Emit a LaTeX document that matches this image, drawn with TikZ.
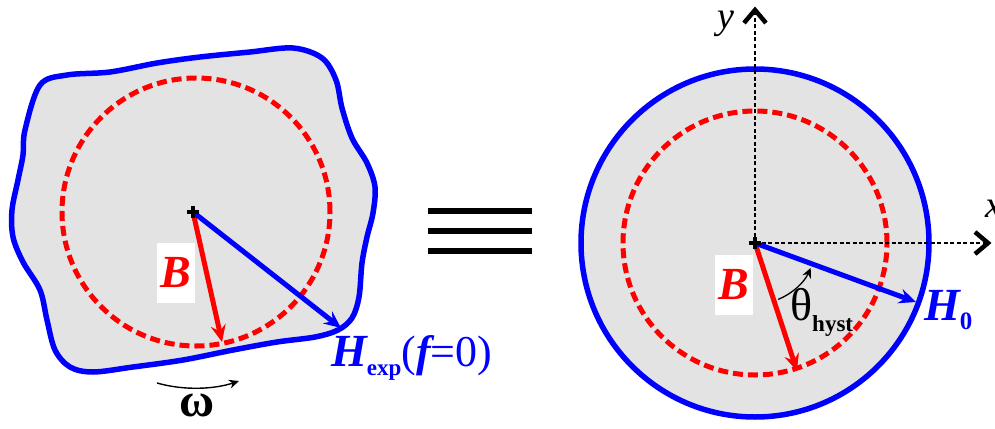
\documentclass[tikz,border=0pt]{standalone}
\usepackage{fontspec}
\setmainfont{Liberation Serif}
\usetikzlibrary{arrows.meta,calc}
\definecolor{blobgray}{HTML}{E3E3E3}
\definecolor{hblue}{HTML}{0000FF}
\definecolor{bred}{HTML}{FF0000}
\tikzset{
  outline/.style={draw=hblue, line width=5.5pt, fill=blobgray},
  redcirc/.style={draw=bred, line width=5pt, dash pattern=on 10pt off 5pt},
  vecB/.style={draw=bred, line width=5pt, -{Stealth[length=17pt,width=15pt,inset=6pt]}},
  vecH/.style={draw=hblue, line width=5pt, -{Stealth[length=17pt,width=15pt,inset=6pt]}},
  axis/.style={draw=black, line width=1.6pt, dash pattern=on 4pt off 2.5pt},
  chev/.style={draw=black, line width=4.5pt},
  marker/.style={draw=black, line width=3.5pt},
  blabel/.style={fill=white, text=bred, inner sep=0pt, minimum width=38pt, minimum height=60pt, font=\fontsize{46}{46}\selectfont\bfseries\itshape},
}
\begin{document}
\begin{tikzpicture}[x=1pt,y=-1pt]
\useasboundingbox (0,0) rectangle (995,428);
% ---------- left blob ----------
\draw[outline] plot[smooth cycle, tension=0.55] coordinates {
 (25,130) (40,85) (67,75) (110,72) (157,63) (200,57) (250,52) (293,48)
 (322,58) (336,80) (342,108) (352,138) (367,163) (375,187) (373,213)
 (367,237) (362,263) (359,297) (352,318) (338,330) (315,337) (277,342)
 (233,350) (183,360) (133,367) (93,372) (70,367) (55,350) (47,320)
 (40,290) (23,262) (13,237) (12,210) (18,180) (23,155)};
\coordinate (cL) at (193,212);
\draw[redcirc] (196,212) circle[radius=134pt];
\coordinate (bL) at (222,342);
\coordinate (hL) at (341,328);
\draw[vecB] (cL) -- (bL);
\draw[vecH] (cL) -- (hL);
\draw[marker] ($(cL)+(-6,0)$) -- ($(cL)+(6,0)$) ($(cL)+(0,-6)$) -- ($(cL)+(0,6)$);
\node[blabel] (BL) at (176,273) {B};
\node[anchor=west, text=hblue, inner sep=0pt] (HL) at (331,358)
 {\fontsize{46}{46}\selectfont\bfseries\itshape H\fontsize{23}{23}\selectfont\upshape\raisebox{-9pt}{exp}\fontsize{44}{44}\selectfont\mdseries(\bfseries\itshape f\mdseries\upshape=0)};
% omega
\coordinate (w1) at (157,383);
\coordinate (w2) at (239,381);
\draw[line width=1.4pt, -{Stealth[length=10pt,width=9pt]}] (w1) .. controls (185,391) and (215,389) .. (w2);
\node[font=\fontsize{48}{48}\selectfont\bfseries] (om) at (197,405) {ω};
% ---------- equivalence sign ----------
\coordinate (e1) at (428,211); \coordinate (e2) at (532,211);
\coordinate (e3) at (428,231); \coordinate (e4) at (532,231);
\coordinate (e5) at (428,251); \coordinate (e6) at (532,251);
\draw[line width=5.5pt] (e1) -- (e2) (e3) -- (e4) (e5) -- (e6);
% ---------- right circle ----------
\coordinate (cR) at (755,243);
\draw[outline] (cR) circle[radius=174pt];
\draw[redcirc] (cR) circle[radius=132pt];
\coordinate (xe) at (988,243);
\coordinate (ye) at (755,10);
\draw[axis] (cR) -- (xe);
\draw[axis] (cR) -- (ye);
\draw[chev] ($(xe)+(-13,-11)$) -- (xe) -- ($(xe)+(-13,11)$);
\draw[chev] ($(ye)+(-11,13)$) -- (ye) -- ($(ye)+(11,13)$);
\node[inner sep=0pt, font=\fontsize{38}{38}\selectfont\itshape] (xl) at (994,209) {x};
\node[inner sep=0pt, font=\fontsize{38}{38}\selectfont\itshape] (yl) at (726,24) {y};
\coordinate (bR) at (797,371);
\coordinate (hR) at (916,302);
\draw[vecB] (cR) -- (bR);
\draw[vecH] (cR) -- (hR);
\draw[marker] ($(cR)+(-6,0)$) -- ($(cR)+(6,0)$) ($(cR)+(0,-6)$) -- ($(cR)+(0,6)$);
\draw[line width=1.3pt, -{Stealth[length=10pt,width=9pt]}] (cR) ++(67.7:61) arc[start angle=67.7, end angle=24, radius=61];
\node[blabel] (BR) at (734,285) {B};
\node[anchor=west, inner sep=0pt] (th) at (790,312)
 {\fontsize{46}{46}\selectfont θ\fontsize{23}{23}\selectfont\bfseries\raisebox{-11pt}{hyst}};
\node[anchor=west, text=hblue, inner sep=0pt] (H0) at (924,310)
 {\fontsize{46}{46}\selectfont\bfseries\itshape H\fontsize{25}{25}\selectfont\upshape\raisebox{-9pt}{0}};
\end{tikzpicture}
\end{document}
